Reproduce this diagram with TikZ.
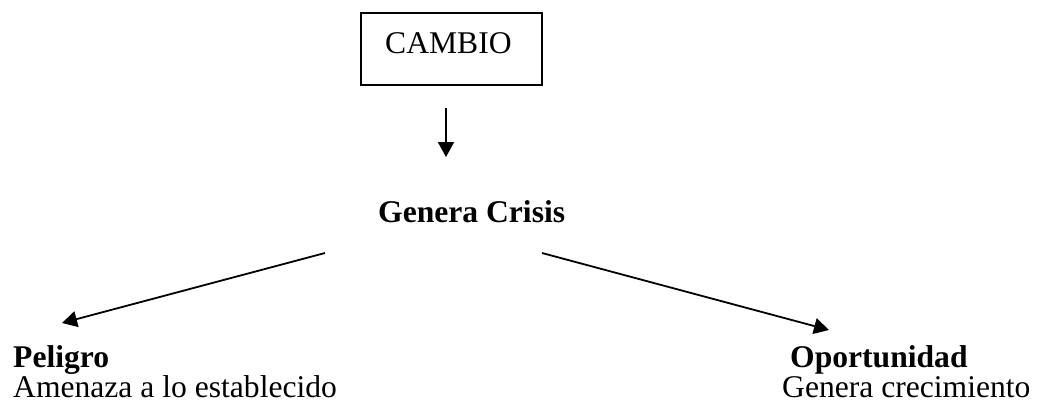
\documentclass[tikz,border=0pt]{standalone}
\usepackage{fontspec}
\setmainfont{Liberation Serif}
\usetikzlibrary{arrows.meta}
\begin{document}
\begin{tikzpicture}[x=1pt,y=-1pt,
  txt/.style={anchor=base west,inner sep=0pt,font=\fontsize{31.6}{30}\selectfont},
  btxt/.style={txt,font=\fontsize{31.6}{30}\selectfont\bfseries},
  conn/.style={line width=1.8pt,-{Triangle[length=15pt,width=16pt]}}]
\useasboundingbox (0,0) rectangle (1043,407);
\node[draw,line width=1.5pt,minimum width=181pt,minimum height=72pt,inner sep=0pt] (box) at (451.5,49) {};
\node[txt] (cambio) at (385,53) {CAMBIO};
\node[btxt] (crisis) at (378,222) {Genera Crisis};
\node[btxt] (peligro) at (13,367) {Peligro};
\node[txt] (amenaza) at (13,397) {Amenaza a lo establecido};
\node[btxt] (oport) at (790,367) {Oportunidad};
\node[txt] (crec) at (782,397) {Genera crecimiento};
\coordinate (d1) at (446,108);
\coordinate (d2) at (446,157);
\coordinate (l1) at (325,253);
\coordinate (l2) at (62,323);
\coordinate (r1) at (542,253);
\coordinate (r2) at (829,330);
\draw[conn] (d1) -- (d2);
\draw[conn] (l1) -- (l2);
\draw[conn] (r1) -- (r2);
\end{tikzpicture}
\end{document}
